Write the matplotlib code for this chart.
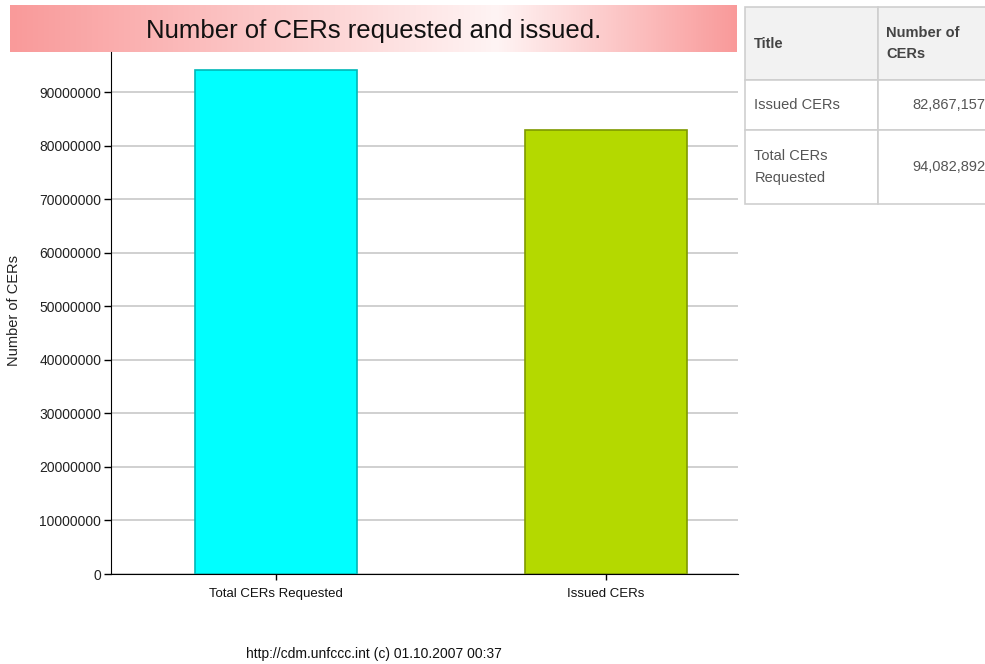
import matplotlib
matplotlib.use('Agg')
import matplotlib.pyplot as plt
import numpy as np
from matplotlib.colors import LinearSegmentedColormap

categories = ['Total CERs Requested', 'Issued CERs']
values = [94082892, 82867157]
bar_colors = ['#00ffff', '#b4d900']
edge_colors = ['#00b8b8', '#7f9a00']
yticks = [0, 10000000, 20000000, 30000000, 40000000, 50000000,
          60000000, 70000000, 80000000, 90000000]

table_header = ['Title', 'Number of\nCERs']
table_rows = [['Issued CERs', '82,867,157'],
              ['Total CERs\nRequested', '94,082,892']]

plt.rcParams['font.family'] = ['Liberation Sans', 'DejaVu Sans']

W, H = 985, 664
fig = plt.figure(figsize=(W / 100, H / 100), dpi=100)

def fax(x0, y0, x1, y1):
    # pixel box (top-left origin) -> figure axes
    return fig.add_axes([x0 / W, 1 - y1 / H, (x1 - x0) / W, (y1 - y0) / H])

# title band with gradient
tax = fax(10, 5, 737, 52)
cmap = LinearSegmentedColormap.from_list(
    'band', [(0, '#f99a9a'), (0.67, '#fff4f4'), (1, '#f99a9a')])
tax.imshow(np.linspace(0, 1, 256)[None, :], aspect='auto', cmap=cmap,
           extent=[0, 1, 0, 1])
tax.axis('off')
tax.text(0.5, 0.44, 'Number of CERs requested and issued.', ha='center',
         va='center', fontsize=18.5, color='#111111')

# main chart
ax = fax(111, 52, 738, 574)
x = np.arange(len(categories))
ax.bar(x, values, width=0.49, color=bar_colors, edgecolor=edge_colors,
       linewidth=1.2, zorder=3)
ax.set_xlim(-0.5, 1.4)
ax.set_ylim(0, 97.5e6)
ax.set_yticks(yticks)
ax.set_yticklabels([str(v) for v in yticks], fontsize=10, color='#222222')
ax.set_xticks(x)
ax.set_xticklabels(categories, fontsize=9.5, color='#111111')
ax.yaxis.grid(True, color='#c8c8c8', linewidth=1.2, zorder=0)
ax.set_axisbelow(True)
for s in ['top', 'right']:
    ax.spines[s].set_visible(False)
ax.tick_params(axis='y', length=5, width=1, pad=2)
ax.tick_params(axis='x', length=4, width=1, pad=6)
fig.text(14 / W, 1 - 310 / H, 'Number of CERs', rotation=90, ha='center',
         va='center', fontsize=10.5, color='#222222')

fig.text(374 / W, 1 - 654 / H, 'http://cdm.unfccc.int (c) 01.10.2007 00:37',
         ha='center', va='center', fontsize=10, color='#111111')

# data table on the right
tbl_ax = fax(745, 7, 992, 204)
tbl_ax.axis('off')
tbl = tbl_ax.table(cellText=table_rows, colLabels=table_header,
                   bbox=[0, 0, 1, 1], cellLoc='left', colLoc='left')
tbl.auto_set_font_size(False)
row_h = [73 / 197, 50 / 197, 74 / 197]
col_w = [133 / 247, 114 / 247]
for (r, c), cell in tbl.get_celld().items():
    cell.set_height(row_h[r])
    cell.set_width(col_w[c])
    cell.set_edgecolor('#cfcfcf')
    cell.set_linewidth(1.2)
    txt = cell.get_text()
    txt.set_fontsize(10.5)
    txt.set_linespacing(1.7)
    if r == 0:
        cell.set_facecolor('#f2f2f2')
        txt.set_color('#444444')
        txt.set_fontweight('bold')
    else:
        cell.set_facecolor('white')
        txt.set_color('#555555')
    if c == 1 and r > 0:
        txt.set_ha('right')
        cell.PAD = 0.06
    else:
        cell.PAD = 0.07

fig.savefig('out.png', dpi=100)
